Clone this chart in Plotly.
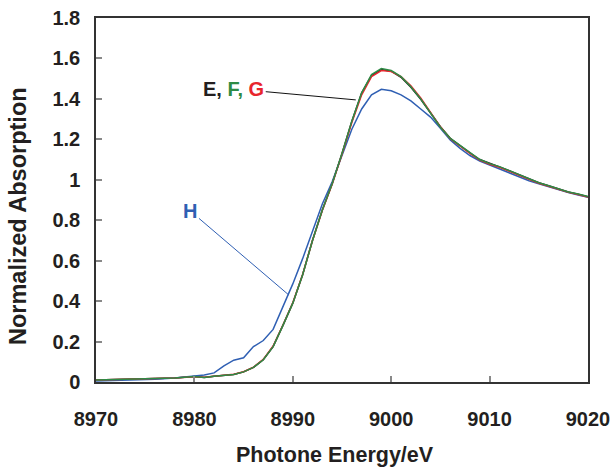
import plotly.graph_objects as go

energy = [8970, 8972, 8974, 8976, 8978, 8980, 8981, 8982, 8983, 8984, 8985, 8986, 8987, 8988, 8989,
          8990, 8991, 8992, 8993, 8994, 8995, 8996, 8997, 8998, 8999, 9000, 9001, 9002, 9003, 9004,
          9005, 9006, 9007, 9008, 9009, 9010, 9011, 9012, 9013, 9014, 9015, 9016, 9017, 9018, 9019, 9020]

abs_E = [0.010, 0.012, 0.013, 0.015, 0.020, 0.027, 0.022, 0.028, 0.033, 0.037, 0.050, 0.072, 0.110, 0.175, 0.280,
         0.390, 0.530, 0.700, 0.850, 0.980, 1.130, 1.290, 1.430, 1.515, 1.545, 1.537, 1.507, 1.458, 1.398, 1.330,
         1.262, 1.205, 1.168, 1.133, 1.100, 1.080, 1.064, 1.045, 1.025, 1.005, 0.985, 0.970, 0.955, 0.940, 0.929, 0.916]
abs_F = [0.010, 0.012, 0.013, 0.015, 0.020, 0.027, 0.022, 0.028, 0.033, 0.037, 0.050, 0.072, 0.110, 0.175, 0.280,
         0.390, 0.530, 0.700, 0.850, 0.980, 1.130, 1.290, 1.430, 1.520, 1.550, 1.540, 1.510, 1.460, 1.400, 1.330,
         1.260, 1.205, 1.170, 1.135, 1.100, 1.080, 1.065, 1.045, 1.025, 1.005, 0.985, 0.970, 0.955, 0.940, 0.930, 0.917]
abs_G = [0.010, 0.012, 0.013, 0.015, 0.020, 0.026, 0.023, 0.028, 0.033, 0.038, 0.051, 0.073, 0.112, 0.178, 0.282,
         0.392, 0.532, 0.700, 0.848, 0.978, 1.126, 1.283, 1.420, 1.510, 1.540, 1.535, 1.510, 1.465, 1.405, 1.335,
         1.262, 1.203, 1.166, 1.130, 1.097, 1.077, 1.062, 1.043, 1.022, 1.002, 0.983, 0.968, 0.952, 0.938, 0.927, 0.915]
abs_H = [0.005, 0.008, 0.010, 0.013, 0.020, 0.032, 0.035, 0.045, 0.080, 0.108, 0.120, 0.175, 0.205, 0.260, 0.370,
         0.485, 0.610, 0.750, 0.880, 0.990, 1.120, 1.250, 1.350, 1.420, 1.447, 1.440, 1.420, 1.390, 1.350, 1.310,
         1.255, 1.197, 1.155, 1.120, 1.093, 1.073, 1.055, 1.035, 1.015, 0.995, 0.980, 0.965, 0.950, 0.937, 0.925, 0.914]

x_ticks = [8970, 8980, 8990, 9000, 9010, 9020]
x_tick_labels = ["8970", "8980", "8990", "9000", "9010", "9020"]
y_ticks = [0, 0.2, 0.4, 0.6, 0.8, 1, 1.2, 1.4, 1.6, 1.8]
y_tick_labels = ["0", "0.2", "0.4", "0.6", "0.8", "1", "1.2", "1.4", "1.6", "1.8"]

FONT = "Liberation Sans, Arial, sans-serif"
TXT = "#231f20"
C_E, C_F, C_G, C_H = "#231f20", "#2e8b45", "#e8252d", "#2f5fb3"

fig = go.Figure()
fig.add_trace(go.Scatter(x=energy, y=abs_E, mode="lines", line=dict(color=C_E, width=1.5), name="E"))
fig.add_trace(go.Scatter(x=energy, y=abs_H, mode="lines", line=dict(color=C_H, width=1.5), name="H"))
fig.add_trace(go.Scatter(x=energy, y=abs_G, mode="lines", line=dict(color=C_G, width=1.5), name="G"))
fig.add_trace(go.Scatter(x=energy, y=abs_F, mode="lines", line=dict(color=C_F, width=1.5), name="F"))

fig.add_annotation(
    x=8996.4, y=1.395, ax=8984.0, ay=1.45, axref="x", ayref="y", xref="x", yref="y",
    text=f"<b><span style='color:{C_E}'>E, </span><span style='color:{C_F}'>F, </span><span style='color:{C_G}'>G</span></b>",
    showarrow=True, arrowhead=0, arrowwidth=1, arrowcolor="#111",
    font=dict(family=FONT, size=20),
)
fig.add_annotation(
    x=8989.6, y=0.43, ax=8979.6, ay=0.845, axref="x", ayref="y", xref="x", yref="y",
    text="<b>H</b>", showarrow=True, arrowhead=0, arrowwidth=1, arrowcolor=C_H,
    font=dict(family=FONT, size=20, color=C_H),
)
# axis titles
fig.add_annotation(x=0.486, y=-0.2005, xref="paper", yref="paper", xanchor="center", yanchor="middle",
                   text="<b>Photone Energy/eV</b>", showarrow=False,
                   font=dict(family=FONT, size=21.5, color=TXT))
fig.add_annotation(x=-0.1585, y=0.456, xref="paper", yref="paper", xanchor="center", yanchor="middle",
                   text="<b>Normalized Absorption</b>", showarrow=False, textangle=-90,
                   font=dict(family=FONT, size=23.5, color=TXT))

axis_common = dict(
    showline=True, linecolor="#333", linewidth=1.5, mirror=True,
    ticks="inside", ticklen=6, tickcolor="#888", tickwidth=1.5,
    showgrid=False, zeroline=False, automargin=False,
    tickfont=dict(family=FONT, size=20, color=TXT),
)
fig.update_xaxes(range=[8970, 9020], tickvals=x_ticks,
                 ticktext=[f"<b>{t}</b>" for t in x_tick_labels],
                 ticklabelstandoff=18, ticklabeloverflow="allow",
                 **axis_common)
fig.update_yaxes(range=[0, 1.8], tickvals=y_ticks,
                 ticktext=[f"<b>{t}</b>" for t in y_tick_labels],
                 ticklabelstandoff=10, ticklabeloverflow="allow",
                 **axis_common)
fig.update_layout(
    width=610, height=470, showlegend=False,
    margin=dict(l=96, r=22, t=18, b=88),
    plot_bgcolor="white", paper_bgcolor="white",
    font=dict(family=FONT, color=TXT),
)
fig.write_html("out.html")
